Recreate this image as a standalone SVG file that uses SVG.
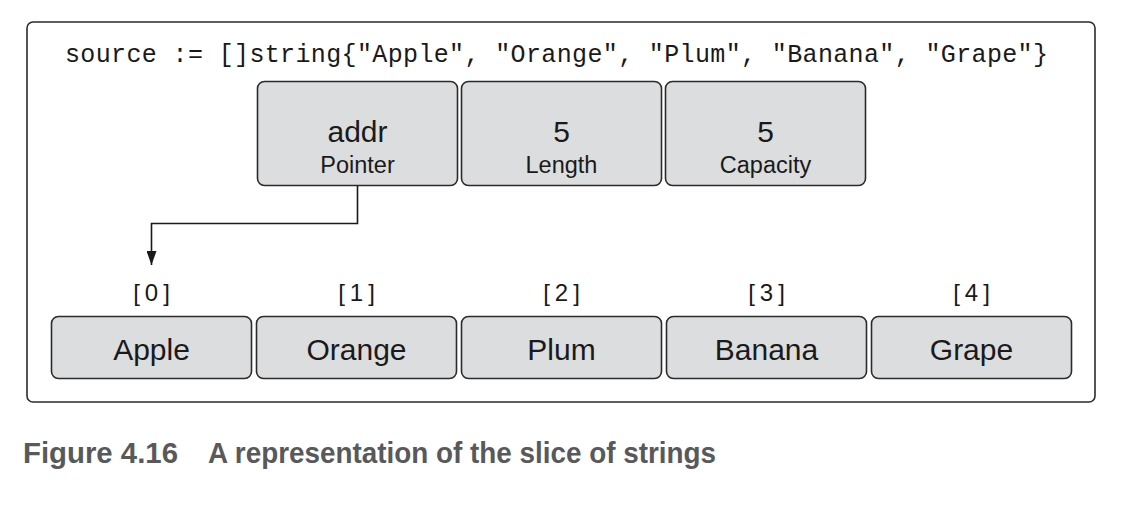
<svg xmlns="http://www.w3.org/2000/svg" width="1138" height="508" viewBox="0 0 1138 508">
<style>
.box{fill:#dcdddf;stroke:#2b2b2b;stroke-width:1.6}
.big{font-family:"Liberation Sans",Arial,sans-serif;font-size:30px;fill:#1a1a1a;text-anchor:middle}
.small{font-family:"Liberation Sans",Arial,sans-serif;font-size:23.5px;fill:#1a1a1a;text-anchor:middle}
.idx{font-family:"Liberation Sans",Arial,sans-serif;font-size:24px;fill:#1a1a1a;text-anchor:middle;letter-spacing:5px}
.code{font-family:"Liberation Mono","Courier New",monospace;font-size:25px;fill:#1a1a1a}
.cap{font-family:"Liberation Sans",Arial,sans-serif;font-weight:bold;font-size:29px;fill:#58595b}
.conn{fill:none;stroke:#1a1a1a;stroke-width:1.6}
</style>
<defs>
<marker id="arrow" viewBox="0 0 14 10" refX="14" refY="5" markerWidth="14" markerHeight="10" markerUnits="userSpaceOnUse" orient="auto">
<path d="M0 0 L14 5 L0 10 Z" fill="#1a1a1a"/>
</marker>
</defs>
<rect x="27" y="22" width="1068" height="380" rx="6" fill="#fff" stroke="#2b2b2b" stroke-width="1.6"/>
<text id="code" class="code" x="65" y="62" textLength="983" lengthAdjust="spacing">source := []string{"Apple", "Orange", "Plum", "Banana", "Grape"}</text>
<g id="pointer"><rect class="box" x="257.5" y="81.5" width="200" height="104" rx="7"/><text class="big" x="357.5" y="142">addr</text><text class="small" x="357.5" y="173">Pointer</text></g>
<g id="length"><rect class="box" x="461.5" y="81.5" width="200" height="104" rx="7"/><text class="big" x="561.5" y="142">5</text><text class="small" x="561.5" y="173">Length</text></g>
<g id="capacity"><rect class="box" x="665.5" y="81.5" width="200" height="104" rx="7"/><text class="big" x="765.5" y="142">5</text><text class="small" x="765.5" y="173">Capacity</text></g>
<g id="connectors">
<path class="conn" d="M357.5 186 V223.5 H151.5 V265" marker-end="url(#arrow)"/>
</g>
<g id="e0"><text class="idx" x="154" y="301">[0]</text><rect class="box" x="51.5" y="316.5" width="200" height="62" rx="7"/><text class="big" x="151.5" y="360">Apple</text></g>
<g id="e1"><text class="idx" x="359" y="301">[1]</text><rect class="box" x="256.5" y="316.5" width="200" height="62" rx="7"/><text class="big" x="356.5" y="360">Orange</text></g>
<g id="e2"><text class="idx" x="564" y="301">[2]</text><rect class="box" x="461.5" y="316.5" width="200" height="62" rx="7"/><text class="big" x="561.5" y="360">Plum</text></g>
<g id="e3"><text class="idx" x="769" y="301">[3]</text><rect class="box" x="666.5" y="316.5" width="200" height="62" rx="7"/><text class="big" x="766.5" y="360">Banana</text></g>
<g id="e4"><text class="idx" x="974" y="301">[4]</text><rect class="box" x="871.5" y="316.5" width="200" height="62" rx="7"/><text class="big" x="971.5" y="360">Grape</text></g>
<text id="caption" class="cap" y="463"><tspan x="23" textLength="155" lengthAdjust="spacingAndGlyphs">Figure 4.16</tspan><tspan x="208" textLength="508" lengthAdjust="spacingAndGlyphs">A representation of the slice of strings</tspan></text>
</svg>
